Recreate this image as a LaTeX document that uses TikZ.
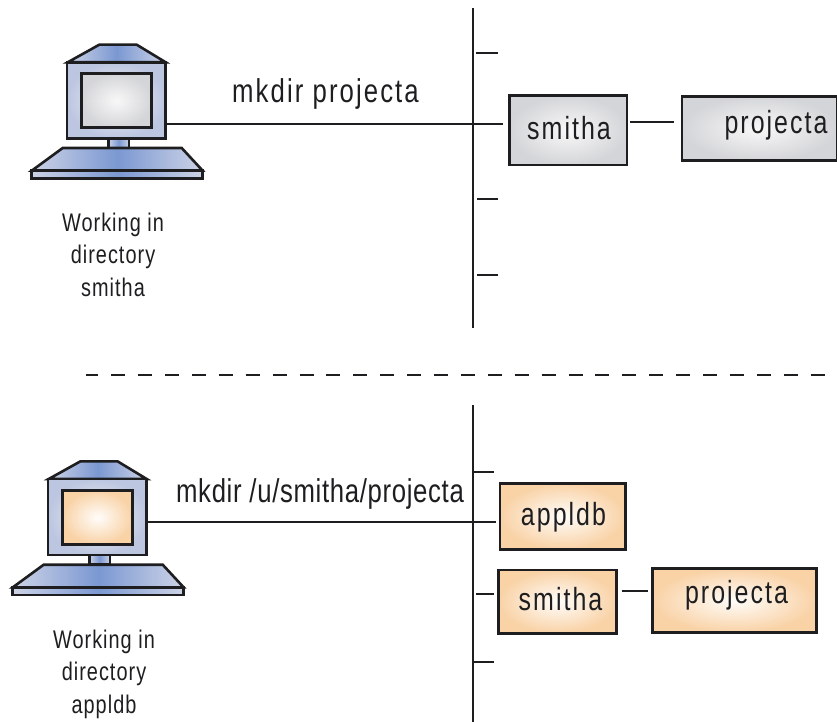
\documentclass[tikz,border=0pt]{standalone}
\usepackage{fontspec}
\setmainfont{Liberation Sans}
\newfontfamily\lblfont[FakeStretch=0.78,LetterSpace=6.3]{Liberation Sans}
\newfontfamily\lblbfont[FakeStretch=0.78,LetterSpace=2]{Liberation Sans}
\newfontfamily\capfont[FakeStretch=0.78,LetterSpace=4]{Liberation Sans}
\definecolor{ink}{HTML}{1E1E20}
\definecolor{bluemid}{HTML}{7B98D2}
\definecolor{blueedge}{HTML}{CDD3E6}
\definecolor{bodyin}{HTML}{F2F3F8}
\definecolor{bodyout}{HTML}{BCC6E0}
\definecolor{greyin}{HTML}{F8F8F8}
\definecolor{greyout}{HTML}{D4D5D8}
\definecolor{orin}{HTML}{FFFDFA}
\definecolor{orout}{HTML}{F9D2A6}
\tikzset{
  ln/.style={draw=ink,line width=1.8pt},
  thick outline/.style={draw=ink,line width=2.6pt,line join=miter},
  hband/.style={thick outline,left color=blueedge,right color=blueedge,middle color=bluemid},
  greybox/.style={rectangle,thick outline,inner color=greyin,outer color=greyout,inner sep=0pt,outer sep=0pt},
  orbox/.style={rectangle,thick outline,inner color=orin,outer color=orout,inner sep=0pt,outer sep=0pt},
  bodybox/.style={rectangle,thick outline,inner color=bodyin,outer color=bodyout,inner sep=0pt,outer sep=0pt},
  boxtxt/.style={text=ink,inner sep=0pt,anchor=base,font=\fontsize{32}{32}\lblfont},
  cmdatxt/.style={text=ink,inner sep=0pt,anchor=base,font=\fontsize{33}{33}\lblfont},
  cmdbtxt/.style={text=ink,inner sep=0pt,anchor=base,font=\fontsize{33}{33}\lblbfont},
  captxt/.style={text=ink,inner sep=0pt,align=center,font=\fontsize{25.5}{32.4}\capfont},
}
% #1 name, #2 shift, #3 screen colour style
\newcommand{\computer}[3]{%
  \begin{scope}[shift={#2}]
    \fill[hband] (99.3,44.7) -- (136.7,44.7) -- (165.7,62.3) -- (67.7,62.3) -- cycle;
    \node[bodybox,minimum width=98.7pt,minimum height=76pt] (#1) at (116.3,100.3) {};
    \node[#3,line width=3.3pt,minimum width=70.4pt,minimum height=54pt] (#1s) at (116.5,100.7) {};
    \fill[hband] (108.3,138.3) rectangle (129,148);
    \fill[hband] (62.7,148) -- (181.7,148) -- (202.7,170.7) -- (31.7,170.7) -- cycle;
    \fill[hband] (31.7,170.7) rectangle (202.7,178.3);
  \end{scope}}
\begin{document}
\begin{tikzpicture}[x=1pt,y=-1pt]
\useasboundingbox (0,0) rectangle (837,722);
% top half
\computer{pcA}{(0,0)}{greybox}
\coordinate (trA1) at (473.3,8);
\coordinate (trA2) at (473.3,328);
\draw[ln] (trA1) -- (trA2);
\coordinate (a1l) at (476,53); \coordinate (a1r) at (498,53);
\coordinate (a2r) at (503,124);
\coordinate (a3l) at (477,199); \coordinate (a3r) at (498,199);
\coordinate (a4l) at (477,275); \coordinate (a4r) at (498,275);
\draw[ln] (a1l) -- (a1r);
\draw[ln] (a3l) -- (a3r);
\draw[ln] (a4l) -- (a4r);
\draw[ln] (pcA.east |- a2r) -- (a2r);
\node[greybox,minimum width=117.7pt,minimum height=69.3pt] (smA) at (568.2,130.4) {};
\node[greybox,minimum width=155pt,minimum height=64.4pt] (prA) at (759.5,128.5) {};
\node[boxtxt] (smAt) at (569,140) {smitha};
\node[boxtxt] (prAt) at (776,134) {projecta};
\coordinate (c1l) at (630,121.7); \coordinate (c1r) at (674,121.7);
\draw[ln] (c1l) -- (c1r);
\node[cmdatxt] (cmdA) at (325.5,102.3) {mkdir projecta};
\node[captxt] (capA) at (113,254.5) {Working in\\directory\\smitha};
% separator
\coordinate (d1) at (86.3,375); \coordinate (d2) at (825,375);
\draw[draw=ink,line width=2.6pt,dash pattern=on 14pt off 12.9pt,dash phase=2pt] (d1) -- (d2);
% bottom half
\computer{pcB}{(-19,416.7)}{orbox}
\coordinate (trB1) at (473.3,405);
\coordinate (trB2) at (473.3,722);
\draw[ln] (trB1) -- (trB2);
\coordinate (b1l) at (473,471.7); \coordinate (b1r) at (494,471.7);
\coordinate (b2r) at (496,521.7);
\coordinate (b3l) at (476,594.3); \coordinate (b3r) at (494,594.3);
\coordinate (b4l) at (472,662); \coordinate (b4r) at (494,662);
\draw[ln] (b1l) -- (b1r);
\draw[ln] (b3l) -- (b3r);
\draw[ln] (b4l) -- (b4r);
\draw[ln] (pcB.east |- b2r) -- (b2r);
\node[orbox,minimum width=125.3pt,minimum height=66pt] (apB) at (562.7,516.3) {};
\node[orbox,minimum width=118.4pt,minimum height=63.3pt] (smB) at (557.5,601.7) {};
\node[orbox,minimum width=164.4pt,minimum height=64.4pt] (prB) at (734.5,600.5) {};
\node[boxtxt] (apBt) at (563.5,525) {appldb};
\node[boxtxt] (smBt) at (560.5,610) {smitha};
\node[boxtxt] (prBt) at (736.5,603) {projecta};
\coordinate (c2l) at (621.7,591); \coordinate (c2r) at (648.3,591);
\draw[ln] (c2l) -- (c2r);
\node[cmdbtxt] (cmdB) at (320,502.3) {mkdir /u/smitha/projecta};
\node[captxt] (capB) at (104,674) {Working in\\directory\\appldb};
\end{tikzpicture}
\end{document}
